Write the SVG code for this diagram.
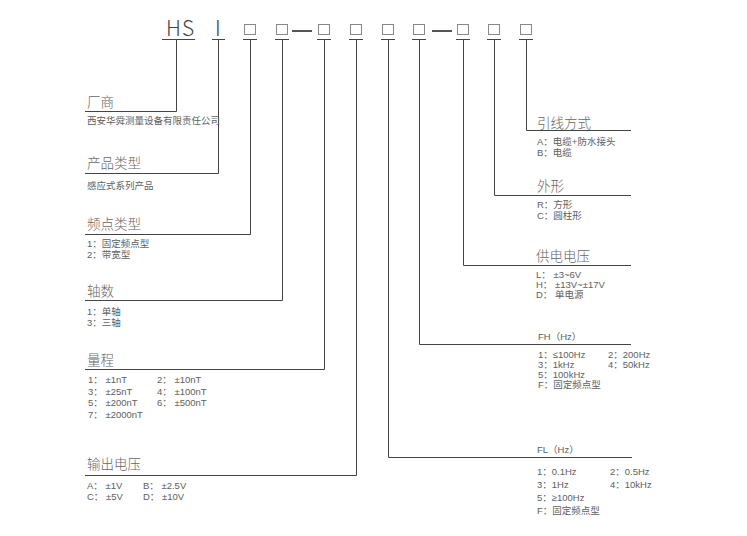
<svg xmlns="http://www.w3.org/2000/svg" width="747" height="536" viewBox="0 0 747 536">
<style>
.t{font-family:"Liberation Sans","Noto Sans CJK SC",sans-serif;fill:#606060;}
.h{font-family:"Noto Sans CJK SC","Liberation Sans",sans-serif;font-size:13.5px;font-weight:300;fill:#666;}
.hd{font-family:"Noto Sans CJK SC","Liberation Sans",sans-serif;font-size:21px;font-weight:300;fill:#444;}
.s{font-size:9.5px;}
.ln{stroke:#444;stroke-width:1;fill:none;}
.bx{stroke:#888;stroke-width:1;fill:#fff;}
.dash{stroke:#555;stroke-width:2;}
</style>
<rect width="747" height="536" fill="#fff"/>
<g id="header">
<text class="hd" x="166" y="36" letter-spacing="1">HS</text>
<text class="hd" x="215" y="36">I</text>
<rect class="bx" x="244.5" y="24.5" width="11" height="10"/>
<rect class="bx" x="276.5" y="24.5" width="11" height="10"/>
<line class="dash" x1="292" y1="31" x2="312" y2="31"/>
<rect class="bx" x="318.5" y="24.5" width="11" height="10"/>
<rect class="bx" x="350.5" y="24.5" width="11" height="10"/>
<rect class="bx" x="382.5" y="24.5" width="11" height="10"/>
<rect class="bx" x="413.5" y="24.5" width="11" height="10"/>
<line class="dash" x1="432" y1="31" x2="452" y2="31"/>
<rect class="bx" x="457.5" y="24.5" width="11" height="10"/>
<rect class="bx" x="488.5" y="24.5" width="11" height="10"/>
<rect class="bx" x="520.5" y="24.5" width="11" height="10"/>
</g>
<g id="connectors">
<path class="ln" d="M162 39.5H195M176.5 39.5V111.5H85"/>
<path class="ln" d="M212 39.5H225M218.5 39.5V173.5H85"/>
<path class="ln" d="M243 39.5H257M250.5 39.5V234.5H85"/>
<path class="ln" d="M275 39.5H289M282.5 39.5V300.5H85"/>
<path class="ln" d="M317 39.5H331M324.5 39.5V369.5H85"/>
<path class="ln" d="M349 39.5H363M356.5 39.5V475.5H85"/>
<path class="ln" d="M381 39.5H395M388.5 39.5V457.5H632"/>
<path class="ln" d="M412 39.5H426M419.5 39.5V344.5H631"/>
<path class="ln" d="M456 39.5H470M463.5 39.5V265.5H631"/>
<path class="ln" d="M487 39.5H501M494.5 39.5V195.5H631"/>
<path class="ln" d="M519 39.5H533M526.5 39.5V130.5H631"/>
</g>
<g id="n-changshang">
<text class="h" x="87" y="107">厂商</text>
<text class="t s" x="87" y="124">西安华舜测量设备有限责任公司</text>
</g>
<g id="n-chanpin">
<text class="h" x="87" y="168">产品类型</text>
<text class="t s" x="87" y="189">感应式系列产品</text>
</g>
<g id="n-pindian">
<text class="h" x="87" y="229">频点类型</text>
<text class="t s" x="87" y="247">1：固定频点型</text>
<text class="t s" x="87" y="258">2：带宽型</text>
</g>
<g id="n-zhoushu">
<text class="h" x="87" y="296">轴数</text>
<text class="t s" x="87" y="315">1：单轴</text>
<text class="t s" x="87" y="326">3：三轴</text>
</g>
<g id="n-liangcheng">
<text class="h" x="87" y="365">量程</text>
<text class="t s" x="88" y="383">1： ±1nT</text>
<text class="t s" x="157" y="383">2： ±10nT</text>
<text class="t s" x="88" y="394.5">3： ±25nT</text>
<text class="t s" x="157" y="394.5">4： ±100nT</text>
<text class="t s" x="88" y="406">5： ±200nT</text>
<text class="t s" x="157" y="406">6： ±500nT</text>
<text class="t s" x="88" y="417.5">7： ±2000nT</text>
</g>
<g id="n-shuchu">
<text class="h" x="87" y="469">输出电压</text>
<text class="t s" x="87" y="489">A： ±1V</text>
<text class="t s" x="143" y="489">B： ±2.5V</text>
<text class="t s" x="87" y="500">C： ±5V</text>
<text class="t s" x="143" y="500">D： ±10V</text>
</g>
<g id="n-yinxian">
<text class="h" x="537" y="128">引线方式</text>
<text class="t s" x="537" y="145">A：电缆+防水接头</text>
<text class="t s" x="537" y="156">B：电缆</text>
</g>
<g id="n-waixing">
<text class="h" x="537" y="191">外形</text>
<text class="t s" x="537" y="208">R：方形</text>
<text class="t s" x="537" y="219">C：圆柱形</text>
</g>
<g id="n-gongdian">
<text class="h" x="536" y="261">供电电压</text>
<text class="t s" x="536" y="278">L： ±3~6V</text>
<text class="t s" x="536" y="288">H： ±13V~±17V</text>
<text class="t s" x="536" y="298">D： 单电源</text>
</g>
<g id="n-fh">
<text class="t s" x="538" y="340">FH（Hz）</text>
<text class="t s" x="538" y="358">1：≤100Hz</text>
<text class="t s" x="608" y="358">2：200Hz</text>
<text class="t s" x="538" y="368">3：1kHz</text>
<text class="t s" x="608" y="368">4：50kHz</text>
<text class="t s" x="538" y="378">5：100kHz</text>
<text class="t s" x="538" y="388">F：固定频点型</text>
</g>
<g id="n-fl">
<text class="t s" x="537" y="453">FL（Hz）</text>
<text class="t s" x="537" y="475">1：0.1Hz</text>
<text class="t s" x="610" y="475">2：0.5Hz</text>
<text class="t s" x="537" y="488">3：1Hz</text>
<text class="t s" x="610" y="488">4：10kHz</text>
<text class="t s" x="537" y="501">5：≥100Hz</text>
<text class="t s" x="537" y="514">F：固定频点型</text>
</g>
</svg>
